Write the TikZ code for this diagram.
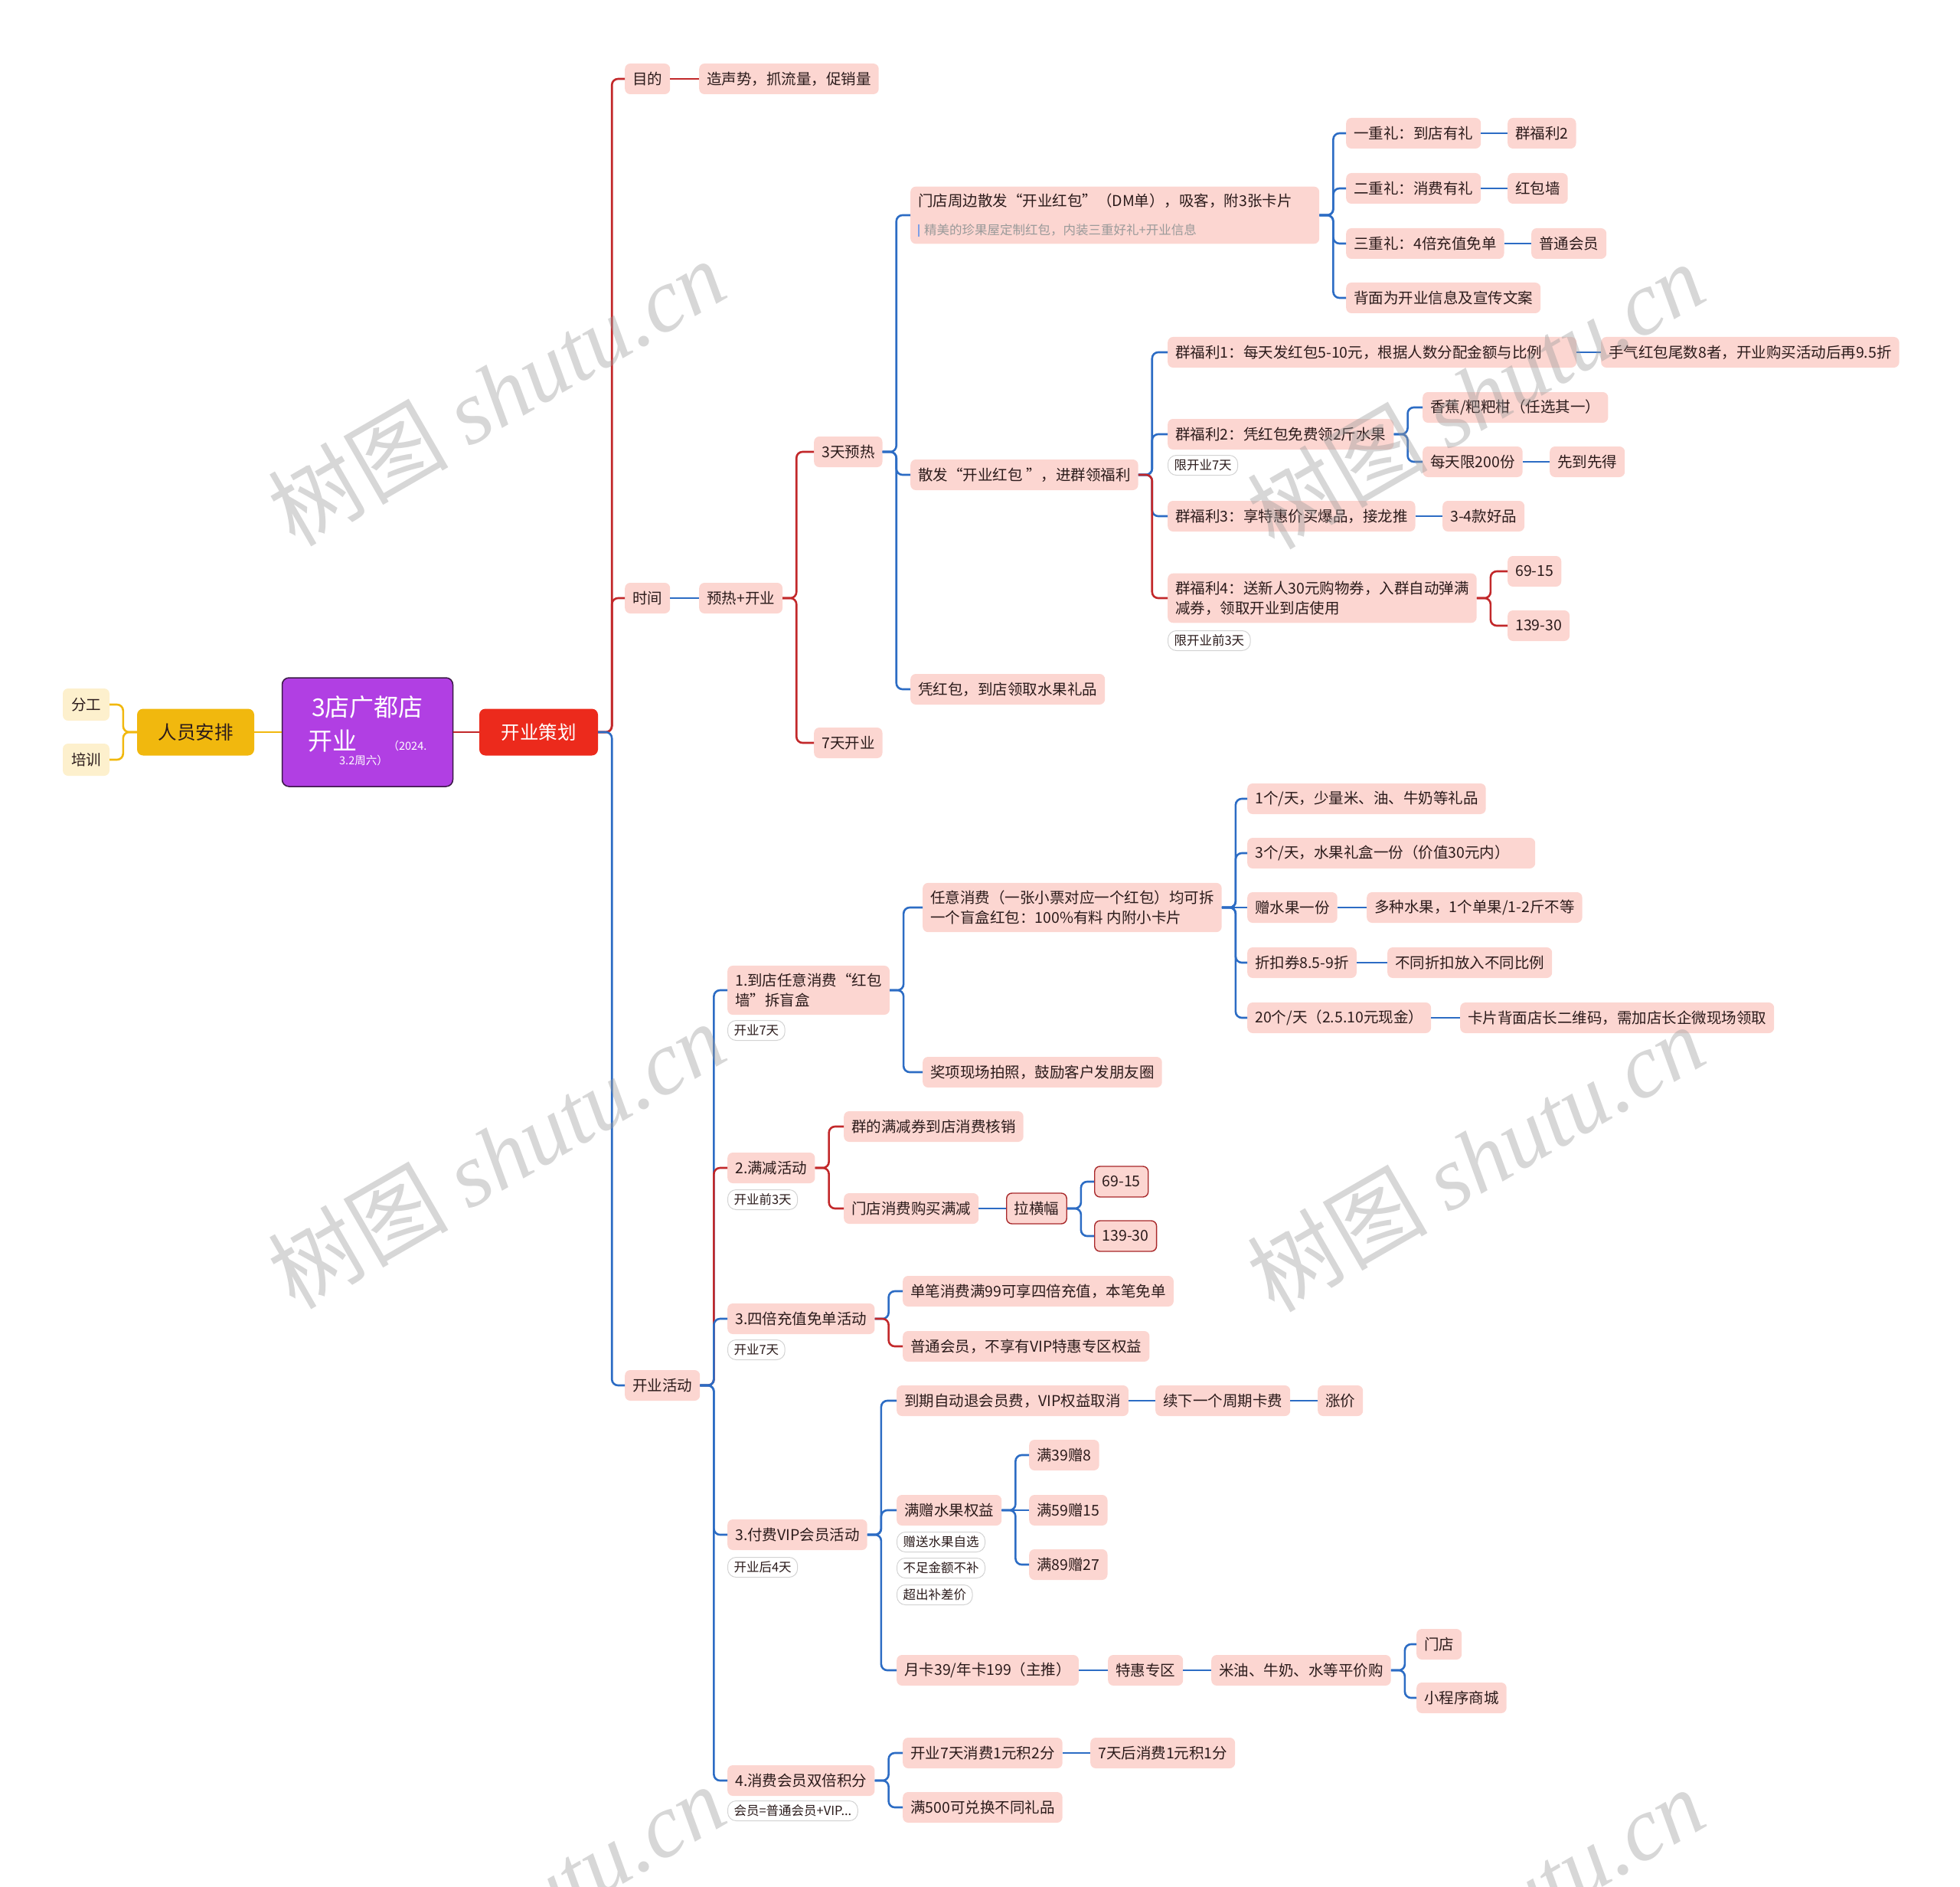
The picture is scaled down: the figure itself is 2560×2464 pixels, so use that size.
\documentclass[tikz,border=0pt]{standalone}
\usepackage{fontspec}
\setmainfont{Noto Sans CJK SC}
\newfontfamily\wmlatin{Liberation Serif}
\definecolor{pinkfill}{HTML}{FCD6D1}
\definecolor{txtdark}{HTML}{2B1B1B}
\definecolor{linered}{HTML}{C2282A}
\definecolor{lineblue}{HTML}{2C6CC4}
\definecolor{rimred}{HTML}{A8282A}
\definecolor{gold}{HTML}{F1B80E}
\definecolor{cream}{HTML}{FDF0CD}
\definecolor{rootpurple}{HTML}{B13FE3}
\definecolor{rootrim}{HTML}{3A1846}
\definecolor{planred}{HTML}{EC2A1C}
\definecolor{tagline}{HTML}{D3D3D3}
\definecolor{notegrey}{HTML}{9A9A9A}
\definecolor{notebar}{HTML}{7E9FE6}
\definecolor{wmgrey}{HTML}{9A9A9A}
\newcommand{\nodefont}{\fontsize{19.5}{26}\selectfont}
\newcommand{\tagfont}{\fontsize{16.5}{18}\selectfont}
\newcommand{\fork}[3]{\draw[#1] (#2.east) -- ++(18,0) |- (#3.west);}
\newcommand{\link}[3]{\draw[#1] (#2.east) -- (#3.west);}

\begin{document}
\begin{tikzpicture}[x=1pt,y=-1pt,
  pinkbox/.style={anchor=west, fill=pinkfill, text=txtdark, rounded corners=7pt, inner xsep=10pt, inner ysep=4pt, minimum height=40pt, font=\nodefont},
  pinkwrap/.style={pinkbox, align=left, inner ysep=10pt},
  redrim/.style={pinkbox, draw=rimred, line width=1.4pt},
  tagbox/.style={anchor=north west, draw=tagline, line width=1pt, fill=white, text=txtdark, rounded corners=11pt, inner xsep=8pt, inner ysep=0pt, minimum height=26pt, font=\tagfont},
  redline/.style={draw=linered, line width=2.6pt, rounded corners=8pt},
  blueline/.style={draw=lineblue, line width=2.6pt, rounded corners=8pt},
  goldline/.style={draw=gold, line width=2.6pt, rounded corners=8pt}]
  \useasboundingbox (0,0) rectangle (2560,2464);

  % centre and left side
  \node[draw=rootrim, line width=1.5pt, fill=rootpurple, rounded corners=9pt, minimum width=223pt, minimum height=142pt] (root) at (480,956) {};
  \node[text=white, inner sep=0pt, font=\fontsize{32}{34}\selectfont] (roottitle) at (480,923) {3店广都店};
  \node[text=white, inner sep=0pt, font=\fontsize{32}{34}\selectfont] (rootopen) at (434,968) {开业};
  \node[text=white, inner sep=0pt, font=\fontsize{14.5}{16}\selectfont] (rootdateA) at (532,974) {（2024.};
  \node[text=white, inner sep=0pt, font=\fontsize{14.5}{16}\selectfont] (rootdateB) at (475,993) {3.2周六）};
  \node[fill=gold, text=txtdark, rounded corners=8pt, minimum width=153pt, minimum height=61pt, font=\fontsize{24.5}{26}\selectfont] (staff) at (255.5,956) {人员安排};
  \node[fill=cream, text=txtdark, rounded corners=7pt, minimum width=61pt, minimum height=42pt, font=\nodefont] (duty) at (112.5,920) {分工};
  \node[fill=cream, text=txtdark, rounded corners=7pt, minimum width=61pt, minimum height=42pt, font=\nodefont] (train) at (112.5,992) {培训};
  \node[fill=planred, text=white, rounded corners=8pt, minimum width=155pt, minimum height=61pt, font=\fontsize{24.5}{26}\selectfont] (plan) at (703.5,956) {开业策划};

  % 目的 / 时间
  \node[pinkbox] (goal) at (816,103) {目的};
  \node[pinkbox] (goaltext) at (913,103) {造声势，抓流量，促销量};
  \node[pinkbox] (time) at (816,781) {时间};
  \node[pinkbox] (warmopen) at (913,781) {预热+开业};
  \node[pinkbox] (warm3) at (1063,590) {3天预热};
  \node[pinkbox] (open7) at (1063,970) {7天开业};
  \node[pinkbox, align=left, text width=514pt, inner ysep=9pt] (flyer) at (1189,281) {门店周边散发“开业红包”（DM单），吸客，附3张卡片\\[11pt]{\color{notebar}\rule[-3pt]{2pt}{16pt}}\hspace{6pt}{\fontsize{16.5}{20}\selectfont\color{notegrey}精美的珍果屋定制红包，内装三重好礼+开业信息}};
  \node[pinkbox] (group) at (1189,620) {散发“开业红包 ”，进群领福利};
  \node[pinkbox] (gift) at (1189,900) {凭红包，到店领取水果礼品};
  \node[pinkbox] (giftA) at (1758,174) {一重礼：到店有礼};
  \node[pinkbox] (giftAx) at (1969,174) {群福利2};
  \node[pinkbox] (giftB) at (1758,246) {二重礼：消费有礼};
  \node[pinkbox] (giftBx) at (1969,246) {红包墙};
  \node[pinkbox] (giftC) at (1758,318) {三重礼：4倍充值免单};
  \node[pinkbox] (giftCx) at (2000,318) {普通会员};
  \node[pinkbox] (back) at (1758,389) {背面为开业信息及宣传文案};
  \node[pinkbox, align=left, text width=514pt] (perkA) at (1525,460) {群福利1：每天发红包5-10元，根据人数分配金额与比例};
  \node[pinkbox] (perkAx) at (2091,460) {手气红包尾数8者，开业购买活动后再9.5折};
  \node[pinkbox] (perkB) at (1525,567) {群福利2：凭红包免费领2斤水果};
  \node[tagbox] (perkBtag) at (1525,594) {限开业7天};
  \node[pinkbox] (fruit) at (1858,532) {香蕉/粑粑柑（任选其一）};
  \node[pinkbox] (limit) at (1858,603) {每天限200份};
  \node[pinkbox] (first) at (2024,603) {先到先得};
  \node[pinkbox] (perkC) at (1525,674) {群福利3：享特惠价买爆品，接龙推};
  \node[pinkbox] (perkCx) at (1884,674) {3-4款好品};
  \node[pinkwrap] (perkD) at (1525,781) {群福利4：送新人30元购物券，入群自动弹满\\减券，领取开业到店使用};
  \node[tagbox] (perkDtag) at (1525,823) {限开业前3天};
  \node[pinkbox] (cutA) at (1969,746) {69-15};
  \node[pinkbox] (cutB) at (1969,817) {139-30};

  % 开业活动
  \node[pinkbox] (event) at (816,1809) {开业活动};
  \node[pinkwrap] (wall) at (950,1293) {1.到店任意消费“红包\\墙”拆盲盒};
  \node[tagbox] (walltag) at (950,1332) {开业7天};
  \node[pinkwrap] (box) at (1205,1185) {任意消费（一张小票对应一个红包）均可拆\\一个盲盒红包：100\%有料 内附小卡片};
  \node[pinkbox] (photo) at (1205,1400) {奖项现场拍照，鼓励客户发朋友圈};
  \node[pinkbox] (prizeA) at (1629,1043) {1个/天，少量米、油、牛奶等礼品};
  \node[pinkbox, align=left, text width=356pt] (prizeB) at (1629,1114) {3个/天，水果礼盒一份（价值30元内）};
  \node[pinkbox] (prizeC) at (1629,1185) {赠水果一份};
  \node[pinkbox] (prizeCx) at (1785,1185) {多种水果，1个单果/1-2斤不等};
  \node[pinkbox] (prizeD) at (1629,1257) {折扣券8.5-9折};
  \node[pinkbox] (prizeDx) at (1812,1257) {不同折扣放入不同比例};
  \node[pinkbox] (prizeE) at (1629,1329) {20个/天（2.5.10元现金）};
  \node[pinkbox] (prizeEx) at (1907,1329) {卡片背面店长二维码，需加店长企微现场领取};
  \node[pinkbox] (minus) at (950,1525) {2.满减活动};
  \node[tagbox] (minustag) at (950,1553) {开业前3天};
  \node[pinkbox] (coupon) at (1102,1471) {群的满减券到店消费核销};
  \node[pinkbox] (store) at (1102,1578) {门店消费购买满减};
  \node[redrim] (banner) at (1314,1578) {拉横幅};
  \node[redrim] (bannerA) at (1429,1543) {69-15};
  \node[redrim] (bannerB) at (1429,1614) {139-30};
  \node[pinkbox] (quad) at (950,1722) {3.四倍充值免单活动};
  \node[tagbox] (quadtag) at (950,1749) {开业7天};
  \node[pinkbox] (quadA) at (1179,1686) {单笔消费满99可享四倍充值，本笔免单};
  \node[pinkbox] (quadB) at (1179,1758) {普通会员，不享有VIP特惠专区权益};
  \node[pinkbox] (vip) at (950,2004) {3.付费VIP会员活动};
  \node[tagbox] (viptag) at (950,2033) {开业后4天};
  \node[pinkbox] (expire) at (1171,1829) {到期自动退会员费，VIP权益取消};
  \node[pinkbox] (renew) at (1509,1829) {续下一个周期卡费};
  \node[pinkbox] (raise) at (1721,1829) {涨价};
  \node[pinkbox] (bonus) at (1171,1972) {满赠水果权益};
  \node[tagbox] (bonustagA) at (1171,2000) {赠送水果自选};
  \node[tagbox] (bonustagB) at (1171,2034) {不足金额不补};
  \node[tagbox] (bonustagC) at (1171,2069) {超出补差价};
  \node[pinkbox] (bonusA) at (1344,1900) {满39赠8};
  \node[pinkbox] (bonusB) at (1344,1972) {满59赠15};
  \node[pinkbox] (bonusC) at (1344,2043) {满89赠27};
  \node[pinkbox] (card) at (1171,2181) {月卡39/年卡199（主推）};
  \node[pinkbox] (zone) at (1447,2181) {特惠专区};
  \node[pinkbox] (cheap) at (1582,2181) {米油、牛奶、水等平价购};
  \node[pinkbox] (shop) at (1850,2147) {门店};
  \node[pinkbox] (mini) at (1850,2217) {小程序商城};
  \node[pinkbox] (points) at (950,2325) {4.消费会员双倍积分};
  \node[tagbox] (pointstag) at (950,2351) {会员=普通会员+VIP...};
  \node[pinkbox] (pointsA) at (1179,2289) {开业7天消费1元积2分};
  \node[pinkbox] (pointsAx) at (1424,2289) {7天后消费1元积1分};
  \node[pinkbox] (pointsB) at (1179,2360) {满500可兑换不同礼品};

  % connectors
  \draw[goldline] (root.west) -- (staff.east);
  \draw[goldline] (staff.west) -- ++(-18,0) |- (duty.east);
  \draw[goldline] (staff.west) -- ++(-18,0) |- (train.east);
  \draw[redline] (root.east) -- (plan.west);
  \fork{redline}{plan}{goal}
  \fork{redline}{plan}{time}
  \fork{blueline}{plan}{event}
  \link{redline}{goal}{goaltext}
  \link{blueline}{time}{warmopen}
  \fork{redline}{warmopen}{warm3}
  \fork{redline}{warmopen}{open7}
  \fork{blueline}{warm3}{flyer}
  \fork{blueline}{warm3}{group}
  \fork{blueline}{warm3}{gift}
  \fork{blueline}{flyer}{giftA}
  \fork{blueline}{flyer}{giftB}
  \fork{blueline}{flyer}{giftC}
  \fork{blueline}{flyer}{back}
  \link{blueline}{giftA}{giftAx}
  \link{blueline}{giftB}{giftBx}
  \link{blueline}{giftC}{giftCx}
  \fork{blueline}{group}{perkA}
  \fork{blueline}{group}{perkB}
  \fork{blueline}{group}{perkC}
  \fork{redline}{group}{perkD}
  \link{blueline}{perkA}{perkAx}
  \fork{blueline}{perkB}{fruit}
  \fork{blueline}{perkB}{limit}
  \link{blueline}{limit}{first}
  \link{blueline}{perkC}{perkCx}
  \fork{redline}{perkD}{cutA}
  \fork{redline}{perkD}{cutB}
  \fork{blueline}{event}{wall}
  \fork{redline}{event}{minus}
  \fork{blueline}{event}{quad}
  \fork{blueline}{event}{vip}
  \fork{blueline}{event}{points}
  \fork{blueline}{wall}{box}
  \fork{blueline}{wall}{photo}
  \fork{blueline}{box}{prizeA}
  \fork{blueline}{box}{prizeB}
  \fork{blueline}{box}{prizeD}
  \fork{blueline}{box}{prizeE}
  \link{blueline}{box}{prizeC}
  \link{blueline}{prizeC}{prizeCx}
  \link{blueline}{prizeD}{prizeDx}
  \link{blueline}{prizeE}{prizeEx}
  \fork{redline}{minus}{coupon}
  \fork{redline}{minus}{store}
  \link{blueline}{store}{banner}
  \fork{blueline}{banner}{bannerA}
  \fork{blueline}{banner}{bannerB}
  \fork{blueline}{quad}{quadA}
  \fork{redline}{quad}{quadB}
  \fork{blueline}{vip}{expire}
  \fork{blueline}{vip}{bonus}
  \fork{blueline}{vip}{card}
  \link{blueline}{expire}{renew}
  \link{blueline}{renew}{raise}
  \fork{blueline}{bonus}{bonusA}
  \fork{blueline}{bonus}{bonusC}
  \link{blueline}{bonus}{bonusB}
  \link{blueline}{card}{zone}
  \link{blueline}{zone}{cheap}
  \fork{blueline}{cheap}{shop}
  \fork{blueline}{cheap}{mini}
  \fork{blueline}{points}{pointsA}
  \fork{blueline}{points}{pointsB}
  \link{blueline}{pointsA}{pointsAx}

  % watermark
  \begin{scope}
    \clip (0,0) rectangle (2560,2464);
    \foreach \wx/\wy [count=\wi] in {648/512, 1927/516, 648/1508, 1927/1512, 648/2504, 1927/2508}
      \node[rotate=30, text=wmgrey, opacity=0.4, inner sep=0pt, font=\fontsize{118}{120}\selectfont] (mark\wi) at (\wx,\wy) {树图 {\wmlatin\itshape shutu.cn}};
  \end{scope}
\end{tikzpicture}
\end{document}
